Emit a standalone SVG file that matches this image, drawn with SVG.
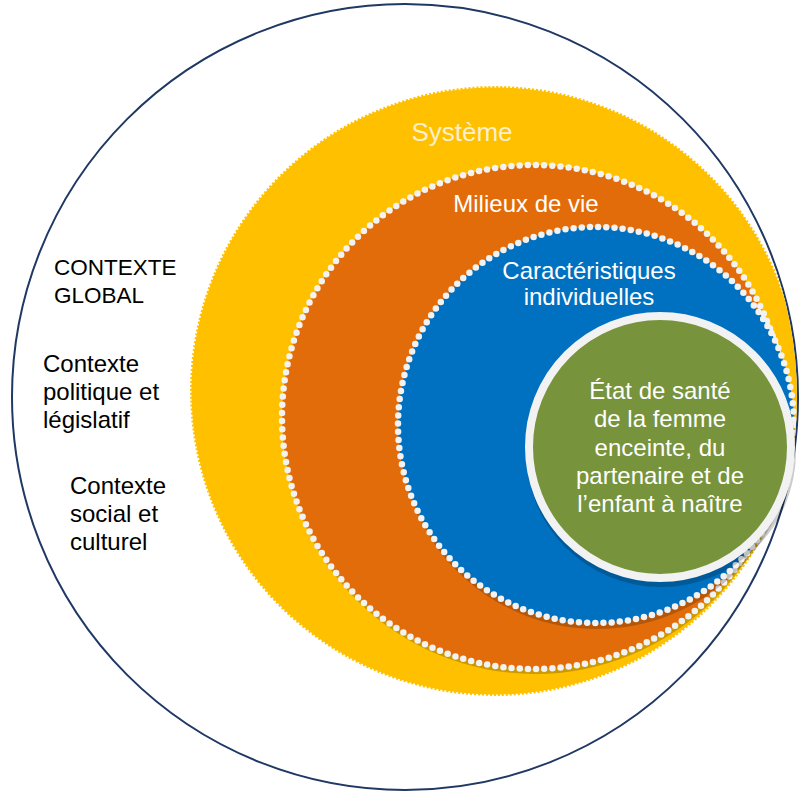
<svg xmlns="http://www.w3.org/2000/svg" width="800" height="793" viewBox="0 0 800 793">
<style>
text{font-family:"Liberation Sans",Arial,Helvetica,sans-serif}
.lab{fill:#000;font-size:24px}
.wt{fill:#fff;font-size:24px;text-anchor:middle}
.dots{fill:none;stroke:#F2F2F2;stroke-width:6.5;stroke-linecap:round;stroke-dasharray:0 8.2}
.shadow{fill:#000;opacity:0.2}
</style>
<defs>
<clipPath id="outerClip"><circle cx="405" cy="397" r="392"/></clipPath>
</defs>
<rect width="800" height="793" fill="#fff"/>
<g id="contexte-global">
<circle cx="405" cy="397" r="393" fill="none" stroke="#1F3864" stroke-width="2"/>
<text class="lab" x="54" y="275" style="font-size:22.5px">CONTEXTE</text>
<text class="lab" x="54" y="303" style="font-size:22.5px">GLOBAL</text>
</g>
<g id="contexte-politique">
<text class="lab" x="43" y="372">Contexte</text>
<text class="lab" x="43" y="400">politique et</text>
<text class="lab" x="43" y="428">législatif</text>
</g>
<g id="contexte-social">
<text class="lab" x="70" y="494">Contexte</text>
<text class="lab" x="70" y="522">social et</text>
<text class="lab" x="70" y="550">culturel</text>
</g>
<g clip-path="url(#outerClip)">
<g id="systeme">
<circle cx="495" cy="391" r="305" fill="#FFC000"/>
<circle cx="495" cy="391" r="305" fill="none" stroke="#fff" stroke-width="3" stroke-dasharray="2 2"/>
<text x="462" y="141" style="font-size:26px;fill:#FCEFCB;text-anchor:middle">Système</text>
</g>
<g id="milieux">
<circle class="shadow" cx="535" cy="422" r="252"/>
<circle cx="534" cy="417" r="252" fill="#E36C0A"/>
<circle class="dots" cx="534" cy="417" r="252"/>
<text class="wt" x="526" y="212">Milieux de vie</text>
</g>
<g id="caracteristiques">
<circle class="shadow" cx="597" cy="431" r="198"/>
<circle cx="596" cy="425" r="198" fill="#0070C0"/>
<circle class="dots" cx="596" cy="425" r="198"/>
<text class="wt" x="589" y="279">Caractéristiques</text>
<text class="wt" x="589" y="305">individuelles</text>
</g>
</g>
<g id="etat-sante">
<circle class="shadow" cx="661" cy="452" r="135"/>
<circle cx="660" cy="447" r="131" fill="#77933C" stroke="#F2F2F2" stroke-width="8"/>
<text class="wt" x="660" y="399">État de santé</text>
<text class="wt" x="660" y="427">de la femme</text>
<text class="wt" x="660" y="456">enceinte, du</text>
<text class="wt" x="660" y="484">partenaire et de</text>
<text class="wt" x="660" y="512">l’enfant à naître</text>
</g>
<g id="connectors"/>
</svg>
